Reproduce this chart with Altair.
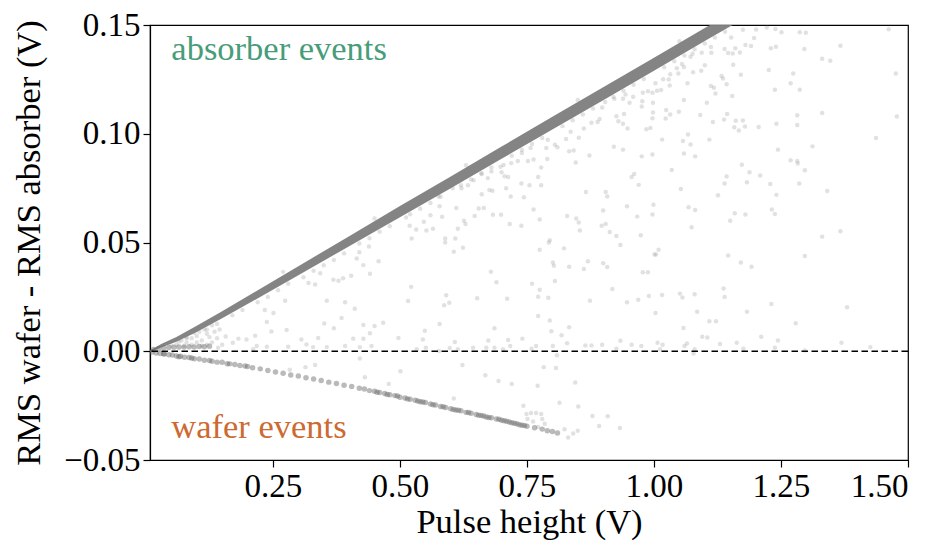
import altair as alt
import pandas as pd

# ---------------- data ----------------
# dense "absorber events" band: upper and lower edges of the solid core
band_x = [0.008, 0.03, 0.06, 0.10, 0.15, 0.20, 0.30, 0.40, 0.50, 0.60, 0.70, 0.80, 0.90, 1.00, 1.10, 1.20]
band_hi = [0.0004, 0.0033, 0.0066, 0.0117, 0.0184, 0.0253, 0.0391, 0.0529, 0.0668, 0.0804, 0.0941, 0.1078, 0.1214, 0.1350, 0.1486, 0.1621]
band_lo = [-0.0004, 0.0017, 0.0044, 0.0089, 0.0152, 0.0217, 0.0349, 0.0483, 0.0616, 0.0750, 0.0885, 0.1020, 0.1154, 0.1290, 0.1426, 0.1561]

# "wafer events" band (medium density points)
wafer_points = [
    (0.012, -0.0004), (0.02, -0.0008), (0.028, -0.0010), (0.036, -0.0013), (0.045, -0.0016),
    (0.052, -0.0017), (0.06, -0.0022), (0.068, -0.0023), (0.076, -0.0028), (0.085, -0.0029),
    (0.095, -0.0034), (0.105, -0.0036), (0.115, -0.0041), (0.125, -0.0043), (0.14, -0.0050),
    (0.15, -0.0051), (0.16, -0.0057), (0.175, -0.0061), (0.185, -0.0066), (0.2, -0.0070),
    (0.21, -0.0076), (0.225, -0.0081), (0.24, -0.0088), (0.255, -0.0095), (0.27, -0.0101),
    (0.285, -0.0109), (0.3, -0.0114), (0.315, -0.0122), (0.33, -0.0128), (0.345, -0.0135),
    (0.36, -0.0142), (0.375, -0.0148), (0.39, -0.0156), (0.405, -0.0162), (0.42, -0.0170),
    (0.43, -0.0174), (0.44, -0.0181), (0.45, -0.0184), (0.46, -0.0190), (0.47, -0.0194),
    (0.48, -0.0200), (0.49, -0.0204), (0.5, -0.0211), (0.51, -0.0215), (0.52, -0.0221),
    (0.53, -0.0225), (0.54, -0.0232), (0.55, -0.0236), (0.56, -0.0243), (0.57, -0.0247),
    (0.58, -0.0254), (0.59, -0.0259), (0.6, -0.0264), (0.61, -0.0270), (0.62, -0.0274),
    (0.63, -0.0281), (0.64, -0.0285), (0.65, -0.0291), (0.66, -0.0295), (0.67, -0.0302),
    (0.68, -0.0306), (0.69, -0.0312), (0.7, -0.0317), (0.71, -0.0322), (0.72, -0.0329),
    (0.73, -0.0333), (0.74, -0.0340), (0.75, -0.0345), (0.765, -0.0352), (0.78, -0.0358),
    (0.79, -0.0366), (0.8, -0.0369), (0.81, -0.0376),
    (0.035, -0.0011), (0.065, -0.0025), (0.09, -0.0031), (0.13, -0.0046), (0.165, -0.0058),
    (0.195, -0.0068), (0.455, -0.0188), (0.475, -0.0199), (0.495, -0.0206), (0.515, -0.0219),
    (0.535, -0.0229), (0.545, -0.0233), (0.565, -0.0246), (0.585, -0.0255), (0.605, -0.0268),
    (0.615, -0.0271), (0.635, -0.0282), (0.655, -0.0294), (0.665, -0.0298), (0.675, -0.0305),
    (0.695, -0.0313), (0.705, -0.0320), (0.715, -0.0325), (0.725, -0.0331), (0.735, -0.0338),
    (0.745, -0.0341),
    # short streak just above zero near the origin
    (0.015, 0.0008), (0.025, 0.0012), (0.035, 0.0015), (0.045, 0.0017), (0.055, 0.0018),
    (0.065, 0.0020), (0.075, 0.0019), (0.085, 0.0021), (0.095, 0.0020), (0.105, 0.0022),
    (0.115, 0.0021), (0.125, 0.0023),
]

# sparse light events
scatter_points = [
    # right part, upper
    (1.462, 0.148), (1.367, 0.1405), (1.331, 0.1345), (1.347, 0.1336), (1.476, 0.1277),
    (1.296, 0.139), (1.287, 0.1467), (1.299, 0.1464), (1.251, 0.1467), (1.274, 0.1277),
    (1.269, 0.1232), (1.287, 0.1202), (1.238, 0.1202), (1.226, 0.1293), (1.230, 0.1393),
    (1.240, 0.140), (1.331, 0.1095), (1.478, 0.1079), (1.437, 0.098), (1.312, 0.0942),
    (1.282, 0.1085), (1.282, 0.104), (1.241, 0.1046), (1.206, 0.1031), (1.179, 0.1033),
    (1.175, 0.1061), (1.161, 0.106), (1.158, 0.103), (1.167, 0.1015), (1.144, 0.1091),
    (1.138, 0.1065), (1.116, 0.1054), (1.109, 0.0973), (1.091, 0.1086), (1.067, 0.0997),
    (1.057, 0.0967), (1.072, 0.0951), (1.059, 0.0909), (1.081, 0.0896), (1.035, 0.0833),
    (1.016, 0.0973), (1.024, 0.1109), (1.032, 0.1089), (1.023, 0.107), (1.049, 0.1101),
    (1.059, 0.1155), (1.104, 0.1143), (1.121, 0.1185), (1.112, 0.122), (1.118, 0.1211),
    (1.143, 0.1228), (1.133, 0.1266), (1.136, 0.1254), (1.154, 0.1174), (1.171, 0.1271),
    (1.156, 0.1317), (1.100, 0.1315), (1.093, 0.129), (1.077, 0.1283), (1.066, 0.1232),
    (1.031, 0.1222), (1.018, 0.1251), (1.029, 0.125), (1.014, 0.1201), (1.006, 0.1198),
    (1.059, 0.1307), (1.045, 0.1301), (1.055, 0.1321), (1.048, 0.1277), (1.032, 0.1274),
    (1.139, 0.139), (1.146, 0.1371), (1.155, 0.1369), (1.160, 0.1393), (1.169, 0.1374),
    (1.180, 0.1408), (1.191, 0.1403), (1.197, 0.144), (1.113, 0.1372), (1.112, 0.1399),
    (1.094, 0.1372), (1.076, 0.1368), (1.072, 0.1354), (1.175, 0.1478), (1.201, 0.1479),
    (1.222, 0.1488), (1.239, 0.1482), (1.152, 0.1443), (1.244, 0.0927), (1.269, 0.0878),
    (1.282, 0.0875), (1.283, 0.0863), (1.297, 0.0832), (1.286, 0.0771), (1.341, 0.0737),
    (1.241, 0.0719), (1.229, 0.0769), (1.209, 0.0808), (1.188, 0.0823), (1.183, 0.0777),
    (1.173, 0.0857), (1.143, 0.0804), (1.139, 0.0771), (1.126, 0.0717), (1.053, 0.0746),
    (1.068, 0.0662), (1.081, 0.0649), (1.074, 0.057), (1.150, 0.06), (1.159, 0.0634),
    (1.180, 0.0629), (1.232, 0.0652), (1.238, 0.0631), (1.331, 0.0527), (1.367, 0.0552),
    # middle part, upper
    (1.003, 0.1232), (0.997, 0.1188), (0.988, 0.1195), (0.978, 0.1188), (0.998, 0.1143),
    (0.977, 0.1149), (0.976, 0.1125), (0.998, 0.1098), (0.997, 0.1071), (0.993, 0.1027),
    (0.985, 0.1021), (0.944, 0.118), (0.939, 0.1161), (0.959, 0.117), (0.952, 0.1143),
    (0.922, 0.1161), (0.904, 0.1146), (0.898, 0.1121), (0.941, 0.1091), (0.926, 0.108),
    (0.930, 0.1057), (0.939, 0.1046), (0.948, 0.1024), (0.893, 0.1068), (0.889, 0.1054),
    (0.877, 0.1051), (0.921, 0.094), (0.939, 0.0927), (0.976, 0.0896), (0.997, 0.0905),
    (0.956, 0.0801), (0.961, 0.0815), (0.970, 0.0765), (0.862, 0.1024), (0.852, 0.0982),
    (0.836, 0.1009), (0.827, 0.0976), (0.873, 0.09), (0.846, 0.0868), (0.833, 0.092),
    (0.842, 0.0923), (0.810, 0.0938), (0.805, 0.0949), (0.791, 0.0972), (0.788, 0.0935),
    (0.778, 0.0845), (0.772, 0.0801), (0.790, 0.0884), (0.763, 0.0882), (0.757, 0.0935),
    (0.740, 0.0912), (0.752, 0.0875), (0.732, 0.0875), (0.719, 0.0865), (0.704, 0.0856),
    (0.698, 0.0848), (0.713, 0.0801), (0.709, 0.0749), (0.718, 0.0711), (0.739, 0.0771),
    (0.755, 0.0763), (0.778, 0.0763), (0.744, 0.0708), (0.763, 0.0652), (0.775, 0.0606),
    (0.866, 0.0732), (0.905, 0.0732), (0.908, 0.0711), (0.900, 0.0647), (0.947, 0.0667),
    (0.967, 0.0619), (0.999, 0.0674), (0.997, 0.0629), (0.974, 0.0533), (0.926, 0.053),
    (0.913, 0.0548), (0.897, 0.0577), (0.905, 0.0585), (0.854, 0.0555), (0.829, 0.0622),
    (0.847, 0.061), (0.852, 0.0592), (0.795, 0.051), (0.739, 0.0577), (0.716, 0.0585),
    (0.699, 0.0628), (0.683, 0.0628), (0.647, 0.0622), (0.626, 0.06), (0.629, 0.0585),
    (0.614, 0.0563), (0.609, 0.0518), (0.589, 0.0518), (0.583, 0.0618), (0.560, 0.0625),
    (0.547, 0.0595), (0.552, 0.0555), (0.565, 0.0563), (0.532, 0.0560), (0.519, 0.0577),
    (0.512, 0.0615), (0.523, 0.0518), (0.655, 0.0656), (0.665, 0.0659), (0.676, 0.0741),
    (0.682, 0.0738), (0.661, 0.0722), (0.673, 0.0796), (0.680, 0.0827), (0.700, 0.0823),
    (0.706, 0.0805), (0.661, 0.0815), (0.645, 0.0786), (0.634, 0.0763), (0.604, 0.0749),
    (0.621, 0.0749), (0.611, 0.0659), (0.578, 0.0667), (0.576, 0.0711),
    # left part
    (0.439, 0.0482), (0.458, 0.0414), (0.428, 0.0396), (0.441, 0.0356), (0.415, 0.0426),
    (0.420, 0.0455), (0.404, 0.0347), (0.388, 0.0336), (0.369, 0.0329), (0.379, 0.0324),
    (0.343, 0.0359), (0.320, 0.0314), (0.333, 0.0307), (0.356, 0.0232), (0.274, 0.0232),
    (0.234, 0.0190), (0.251, 0.0176), (0.238, 0.0135), (0.411, 0.0195), (0.392, 0.0225),
    (0.385, 0.0153), (0.351, 0.0128), (0.370, 0.0106), (0.428, 0.0121), (0.450, 0.0116),
    (0.467, 0.0131), (0.497, 0.0061), (0.408, 0.0058), (0.428, 0.0057), (0.441, 0.0083),
    (0.339, 0.0061), (0.306, 0.0054), (0.277, 0.0098), (0.247, 0.0091), (0.215, 0.0071),
    (0.198, 0.0054), (0.182, 0.0058), (0.171, 0.0039), (0.157, 0.0068), (0.218, 0.0024),
    (0.238, 0.0021), (0.280, 0.0021), (0.316, 0.0031), (0.329, 0.0019), (0.356, 0.0019),
    (0.392, 0.0024), (0.421, 0.0019), (0.444, 0.0024), (0.501, -0.0092), (0.478, -0.015),
    (0.333, -0.0063), (0.314, -0.0073), (0.421, -0.0033), (0.211, 0.0009), (0.142, 0.0016),
    (0.431, -0.012), (0.283, -0.0085),
    # fan between the bands near the origin
    (0.06, 0.003), (0.07, 0.005), (0.08, 0.004), (0.09, 0.006), (0.10, 0.007), (0.11, 0.005),
    (0.12, 0.008), (0.09, 0.003), (0.11, 0.0025), (0.13, 0.004), (0.14, 0.006), (0.10, 0.004),
    (0.08, 0.0065), (0.12, 0.003), (0.15, 0.003), (0.065, 0.0045), (0.075, 0.0025),
    (0.095, 0.0085), (0.105, 0.009), (0.115, 0.010), (0.125, 0.0065), (0.135, 0.009),
    (0.13, 0.012), (0.145, 0.010),
    # middle part, lower
    (0.589, 0.05), (0.606, 0.0458), (0.624, 0.0476), (0.775, 0.0467), (0.823, 0.0473),
    (0.793, 0.05), (0.934, 0.0488), (1.001, 0.0445), (0.679, 0.0366), (0.690, 0.0317),
    (0.801, 0.0408), (0.803, 0.0393), (0.833, 0.0388), (0.862, 0.0378), (0.870, 0.0414),
    (0.900, 0.0405), (0.908, 0.0387), (0.978, 0.0363), (0.988, 0.0363), (0.522, 0.0296),
    (0.516, 0.0231), (0.591, 0.0257), (0.587, 0.0211), (0.597, 0.0223), (0.652, 0.0244),
    (0.711, 0.0241), (0.760, 0.031), (0.775, 0.0283), (0.772, 0.0251), (0.792, 0.0246),
    (0.805, 0.0323), (0.918, 0.0286), (0.874, 0.0232), (0.947, 0.0225), (0.969, 0.0237),
    (0.990, 0.0254), (1.003, 0.0176), (0.772, 0.0162), (0.795, 0.0141), (0.578, 0.0125),
    (0.549, 0.0094), (0.545, 0.0054), (0.686, 0.0106), (0.833, 0.011), (0.798, 0.0092),
    (0.818, 0.0074), (0.608, 0.0043), (0.674, 0.0049), (0.713, 0.0052), (0.741, 0.0058),
    (0.829, 0.0037), (0.533, 0.0009), (0.551, 0.0016), (0.577, 0.0001), (0.598, 0.0015),
    (0.614, 0.0009), (0.644, 0.0016), (0.670, 0.0016), (0.686, 0.0016), (0.703, 0.0009),
    (0.717, 0.0024), (0.759, 0.0012), (0.768, 0.0024), (0.801, 0.0024), (0.865, 0.0027),
    (0.877, 0.0027), (0.898, 0.003), (0.926, 0.0012), (0.934, 0.0048), (0.956, 0.003),
    (0.975, 0.0024),
    (0.809, -0.0018), (0.623, -0.0063), (0.783, -0.0073), (0.807, -0.0077), (0.668, -0.011),
    (0.694, -0.0137), (0.720, -0.015), (0.771, -0.0159), (0.845, -0.0144), (0.606, -0.0217),
    (0.743, -0.0251), (0.814, -0.0237), (0.851, -0.0254), (0.879, -0.0298), (0.909, -0.0299),
    (0.892, -0.0344), (0.933, -0.0353), (0.824, -0.0359), (0.841, -0.0378), (0.850, -0.0366),
    (0.831, -0.0397),
    (0.749, -0.0289), (0.758, -0.0284), (0.768, -0.0284), (0.778, -0.0289), (0.751, -0.0311),
    (0.762, -0.0323), (0.780, -0.0311), (0.785, -0.0333), (0.772, -0.0348),
    # right part, lower
    (1.009, 0.0467), (1.004, 0.0445), (1.146, 0.0440), (1.171, 0.0408), (1.192, 0.0388),
    (1.297, 0.0438), (1.016, 0.0259), (1.051, 0.0265), (1.056, 0.0247), (1.080, 0.0262),
    (1.137, 0.0289), (1.139, 0.025), (1.231, 0.0217), (1.380, 0.0202), (1.085, 0.0182),
    (1.183, 0.0182), (1.058, 0.0107), (1.109, 0.0138), (1.122, 0.0138), (1.279, 0.0129),
    (1.095, 0.0067), (1.105, 0.0063), (1.211, 0.0067), (1.007, 0.0039), (1.017, 0.003),
    (1.065, 0.0036), (1.060, 0.0024), (1.130, 0.0033), (1.163, 0.0039), (1.244, 0.0049),
    (1.369, 0.0039), (1.426, 0.0019), (1.012, 0.0009), (1.080, 0.0009), (1.078, -0.001),
    (1.176, 0.0012), (1.238, 0.0016), (1.297, 0.0004),
    # fuzz along the edges of the dense band
    (0.05, 0.0025), (0.08, 0.006), (0.12, 0.010), (0.14, 0.0125), (0.17, 0.0165), (0.19, 0.019),
    (0.22, 0.0225), (0.24, 0.025), (0.26, 0.028), (0.28, 0.031), (0.31, 0.034), (0.33, 0.037),
    (0.35, 0.0395), (0.37, 0.042), (0.39, 0.045), (0.42, 0.0495), (0.44, 0.052), (0.46, 0.055),
    (0.48, 0.0575), (0.52, 0.063), (0.54, 0.0655), (0.56, 0.0682), (0.58, 0.071), (0.62, 0.0763),
    (0.64, 0.079), (0.66, 0.0818), (0.68, 0.0845), (0.72, 0.0899), (0.74, 0.0926), (0.76, 0.0953),
    (0.78, 0.098), (0.82, 0.1035), (0.84, 0.1062), (0.86, 0.1089), (0.88, 0.1116), (0.92, 0.117),
    (0.94, 0.1198), (0.96, 0.1225), (0.98, 0.1252), (1.02, 0.1306), (1.04, 0.1333), (1.06, 0.136),
    (1.08, 0.1388), (1.10, 0.1415), (1.12, 0.1442), (1.14, 0.1469),
    (0.27, 0.0365), (0.45, 0.061), (0.63, 0.0855), (0.85, 0.1155), (1.05, 0.1425),
]

x_ticks = [0.25, 0.50, 0.75, 1.00, 1.25, 1.50]
y_ticks = [-0.05, 0.00, 0.05, 0.10, 0.15]
labels = ["absorber events", "wafer events"]
label_x = [0.05, 0.05]
label_y = [0.134, -0.040]
label_colors = ["#489c7a", "#cc6a31"]

# ---------------- chart ----------------
FONT = "Liberation Serif"
LABEL_FS = 33
TITLE_FS = 34.5

xs = alt.Scale(domain=[0.008, 1.5], nice=False, zero=False)
ys = alt.Scale(domain=[-0.05, 0.15], nice=False, zero=False)

x_axis = alt.Axis(values=x_ticks, format=".2f", title="Pulse height (V)", grid=False,
                  tickSize=7, labelPadding=3, titlePadding=2)
y_axis = alt.Axis(values=y_ticks, format=".2f", title="RMS wafer - RMS absorber (V)", grid=False,
                  tickSize=7, labelPadding=3, titlePadding=17)

scatter_df = pd.DataFrame(scatter_points, columns=["x", "y"])
wafer_df = pd.DataFrame(wafer_points, columns=["x", "y"])
band_df = pd.DataFrame({"x": band_x, "y": band_hi, "lo": band_lo})
label_df = pd.DataFrame({"x": label_x, "y": label_y, "t": labels, "c": label_colors})
zero_df = pd.DataFrame({"x": [0.008], "y": [0.0]})

X = alt.X("x:Q", scale=xs, axis=x_axis)
Y = alt.Y("y:Q", scale=ys, axis=y_axis)

scatter = alt.Chart(scatter_df).mark_circle(
    color="#808080", opacity=0.24, size=20, clip=True
).encode(x=X, y=Y)

band = alt.Chart(band_df).mark_area(color="#808080", opacity=0.97, clip=True).encode(
    x=X, y=Y, y2="lo:Q",
)

wafer = alt.Chart(wafer_df).mark_circle(color="#666666", opacity=0.45, size=30, clip=True).encode(
    x=X, y=Y,
)

zero_line = alt.Chart(zero_df).mark_rule(color="black", strokeWidth=1.5, strokeDash=[6.5, 3.5]).encode(
    y=Y,
)

texts = alt.Chart(label_df).mark_text(
    font=FONT, fontSize=34.5, align="left", baseline="alphabetic"
).encode(
    x=X, y=Y,
    text="t:N",
    color=alt.Color("c:N", scale=None),
)

chart = alt.layer(scatter, band, wafer, zero_line, texts).properties(
    width=758, height=435,
    autosize=alt.AutoSizeParams(type="none"),
    padding={"left": 142, "top": 17, "right": 27, "bottom": 80},
).configure_view(
    stroke="black", strokeWidth=1.2
).configure_axis(
    labelFont=FONT, labelFontSize=LABEL_FS, titleFont=FONT, titleFontSize=TITLE_FS,
    titleFontWeight="normal", labelColor="black", titleColor="black",
    domainColor="black", tickColor="black", domainWidth=1.2, tickWidth=1.2,
)

chart.save("out.html", embed_options={"renderer": "svg", "actions": False})
